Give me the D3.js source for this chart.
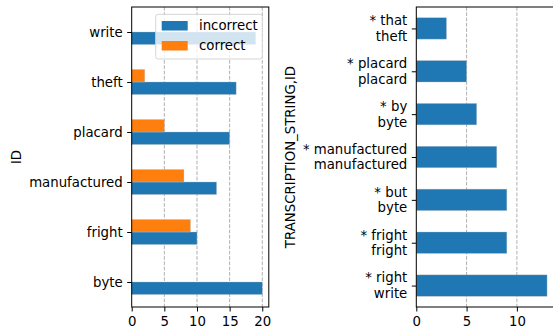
<!DOCTYPE html>
<html>
<head>
<meta charset="utf-8">
<script src="https://cdn.jsdelivr.net/npm/d3@7"></script>
<style>
  html, body { margin: 0; padding: 0; background: #fff; }
  svg text { font-family: "DejaVu Sans", sans-serif; fill: #000; }
</style>
</head>
<body>
<svg id="chart" width="553" height="331"></svg>
<script>
// Left panel: counts of correct / incorrect transcriptions per word ID
const idCategories = ["byte", "fright", "manufactured", "placard", "theft", "write"];
const incorrectCounts = [20, 10, 13, 15, 16, 19];
const correctCounts = [0, 9, 8, 5, 2, 0];
const leftTicks = [0, 5, 10, 15, 20];

// Right panel: counts per (transcription string, ID) pair
const pairLabels = [
  ["* right", "write"],
  ["* fright", "fright"],
  ["* but", "byte"],
  ["* manufactured", "manufactured"],
  ["* by", "byte"],
  ["* placard", "placard"],
  ["* that", "theft"]
];
const pairCounts = [13, 9, 9, 8, 6, 5, 3];
const rightTicks = [0, 5, 10];

const seriesNames = ["incorrect", "correct"];
const BLUE = "#1f77b4", ORANGE = "#ff7f0e";
const FS = 13.3;

const svg = d3.select("#chart");

function panel(opts) {
  const g = svg.append("g");
  const x = d3.scaleLinear().domain([0, opts.xmax]).range([opts.left, opts.right]);
  const y = d3.scaleLinear().domain([-0.5, opts.n - 0.5]).range([opts.bottom, opts.top]);

  // dashed vertical grid
  g.append("g").selectAll("line").data(opts.ticks.filter(t => t > 0)).join("line")
    .attr("x1", d => x(d)).attr("x2", d => x(d))
    .attr("y1", opts.top).attr("y2", opts.bottom)
    .attr("stroke", "#b0b0b0").attr("stroke-width", 1).attr("stroke-dasharray", "3.7,1.6");

  opts.drawBars(g, x, y);

  // spines
  const w = opts.right - opts.left;
  g.append("rect").attr("x", opts.left).attr("y", opts.top)
    .attr("width", w).attr("height", opts.bottom - opts.top)
    .attr("fill", "none").attr("stroke", "#000").attr("stroke-width", 1);

  // x axis
  const xa = g.append("g").attr("transform", `translate(0,${opts.bottom})`)
    .call(d3.axisBottom(x).tickValues(opts.ticks).tickSize(4.5).tickPadding(5).tickFormat(d3.format("d")));
  xa.select(".domain").remove();
  xa.selectAll("line").attr("stroke", "#000");
  xa.selectAll("text").attr("font-size", FS).attr("font-family", "DejaVu Sans, sans-serif");

  // y axis ticks
  const ya = g.append("g").attr("transform", `translate(${opts.left},0)`)
    .call(d3.axisLeft(y).tickValues(d3.range(opts.n)).tickSize(4.5).tickFormat(() => ""));
  ya.select(".domain").remove();
  ya.selectAll("line").attr("stroke", "#000");

  // category labels (possibly multi-line)
  const lab = g.append("g").selectAll("text").data(opts.labels).join("text")
    .attr("text-anchor", "end").attr("font-size", FS)
    .attr("x", opts.left - 9)
    .attr("y", (d, i) => y(i));
  lab.each(function (d) {
    const lines = Array.isArray(d) ? d : [d];
    const t = d3.select(this);
    const lh = 15.6;
    lines.forEach((s, k) => {
      t.append("tspan").attr("x", opts.left - 9)
        .attr("dy", k === 0 ? (0.35 - (lines.length - 1) * lh / 2 / FS) + "em" : lh)
        .text(s);
    });
  });

  // y axis title
  g.append("text").attr("font-size", FS).attr("text-anchor", "middle")
    .attr("transform", `translate(${opts.titleX},${(opts.top + opts.bottom) / 2}) rotate(-90)`)
    .attr("dy", "0.35em")
    .text(opts.title);
  return { x, y, g };
}

// ----- left panel -----
const L = panel({
  left: 131.7, right: 268.8, top: 7, bottom: 307,
  xmax: 21, n: idCategories.length, ticks: leftTicks,
  labels: idCategories, title: "ID", titleX: 16,
  drawBars(g, x, y) {
    const bh = y(0) - y(0.25);
    [incorrectCounts, correctCounts].forEach((vals, s) => {
      g.append("g").selectAll("rect").data(vals).join("rect")
        .attr("x", x(0))
        .attr("y", (d, i) => y(i + (s === 0 ? 0 : 0.25)))
        .attr("width", d => x(d) - x(0))
        .attr("height", bh)
        .attr("fill", s === 0 ? BLUE : ORANGE)
        .attr("stroke", d => d > 0 ? "rgba(190,190,190,0.6)" : "none")
        .attr("stroke-width", 0.6);
    });
  }
});

// legend (upper right, semi-transparent frame)
const lg = L.g.append("g");
lg.append("rect").attr("x", 155.7).attr("y", 14.3).attr("width", 106.6).attr("height", 44.7)
  .attr("rx", 2.5).attr("fill", "rgba(255,255,255,0.8)").attr("stroke", "#d5d5d5").attr("stroke-width", 1);
seriesNames.forEach((name, i) => {
  const yy = 21 + i * 20;
  lg.append("rect").attr("x", 161.7).attr("y", yy).attr("width", 26).attr("height", 9.5)
    .attr("fill", i === 0 ? BLUE : ORANGE);
  lg.append("text").attr("x", 199).attr("y", yy + 4.75).attr("dy", "0.35em")
    .attr("font-size", FS).text(name);
});

// ----- right panel -----
panel({
  left: 416.3, right: 553.6, top: 7, bottom: 307,
  xmax: 13.65, n: pairLabels.length, ticks: rightTicks,
  labels: pairLabels, title: "TRANSCRIPTION_STRING,ID", titleX: 290,
  drawBars(g, x, y) {
    const bh = y(0) - y(0.5);
    g.append("g").selectAll("rect").data(pairCounts).join("rect")
      .attr("x", x(0))
      .attr("y", (d, i) => y(i + 0.25))
      .attr("width", d => x(d) - x(0))
      .attr("height", bh)
      .attr("fill", BLUE)
      .attr("stroke", "rgba(190,190,190,0.6)").attr("stroke-width", 0.6);
  }
});
</script>
</body>
</html>
